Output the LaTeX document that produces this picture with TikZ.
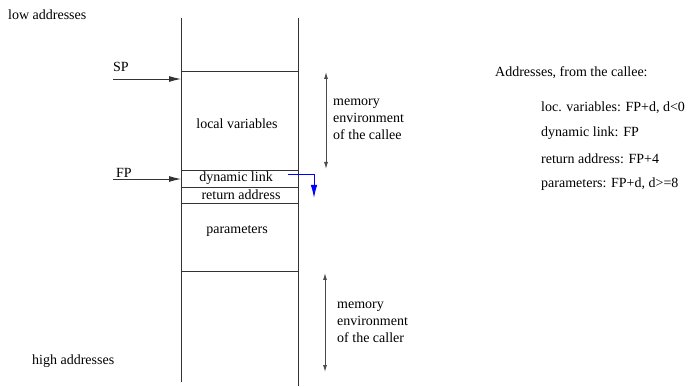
\documentclass[tikz,border=0pt]{standalone}
\usepackage{fontspec}
\setmainfont{Liberation Serif}
\usetikzlibrary{arrows.meta}
\begin{document}
\begin{tikzpicture}[x=1pt,y=-1pt,
  txt/.style={inner sep=0pt,font=\fontsize{14}{17}\selectfont},
  ltxt/.style={txt,anchor=west,align=left},
  frame/.style={draw=black!80,line width=0.9pt},
  ptr/.style={draw=black!80,line width=0.9pt,-{Latex[length=12pt,width=6pt]}},
  span/.style={draw=black!70,line width=0.9pt,{Latex[length=7pt,width=4pt]}-{Latex[length=7pt,width=4pt]}},
  link/.style={draw=blue,line width=1pt,-{Latex[length=13pt,width=6.5pt]}}]
\useasboundingbox (0,0) rectangle (693,387);
% stack frame outline
\coordinate (lt) at (181,18);
\coordinate (lb) at (181,382);
\coordinate (rt) at (298,18);
\coordinate (rb) at (298,386);
\draw[frame] (lt) -- (lb);
\draw[frame] (rt) -- (rb);
\foreach \n/\y in {sp/71,fp/170,dl/187,ra/203,pa/271}{
  \coordinate (\n l) at (181,\y);
  \coordinate (\n r) at (298,\y);
  \draw[frame] (\n l) -- (\n r);
}
% texts in cells
\node[txt] (lv) at (237,124) {local variables};
\node[txt] (dyn) at (236,178) {dynamic link};
\node[txt] (ret) at (241,195) {return address};
\node[txt] (par) at (237,231) {parameters};
% pointers
\node[ltxt] (sp) at (113,67) {SP};
\node[ltxt] (fp) at (116,173) {FP};
\coordinate (sps) at (113,79);
\coordinate (spe) at (181,79);
\coordinate (fps) at (113,179);
\coordinate (fpe) at (181,179);
\draw[ptr] (sps) -- (spe);
\draw[ptr] (fps) -- (fpe);
% dynamic link arrow
\coordinate (bls) at (288,175);
\coordinate (ble) at (314,198);
\draw[link] (bls) -| (ble);
% memory environments
\coordinate (cet) at (326,72);
\coordinate (ceb) at (326,169);
\draw[span] (cet) -- (ceb);
\node[ltxt] (cee) at (333,119) {memory\\environment\\of the callee};
\coordinate (crt) at (325,273);
\coordinate (crb) at (325,372);
\draw[span] (crt) -- (crb);
\node[ltxt] (cre) at (337,322) {memory\\environment\\of the caller};
% side labels
\node[ltxt] (low) at (8,15) {low addresses};
\node[ltxt] (high) at (32,361) {high addresses};
% address list
\node[ltxt] (adr) at (495,73) {Addresses, from the callee:};
\node[ltxt] (a1) at (541,108) {loc. variables: FP+d, d<0};
\node[ltxt] (a2) at (541,133) {dynamic link: FP};
\node[ltxt] (a3) at (541,159) {return address: FP+4};
\node[ltxt] (a4) at (541,184) {parameters: FP+d, d>=8};
\end{tikzpicture}
\end{document}
